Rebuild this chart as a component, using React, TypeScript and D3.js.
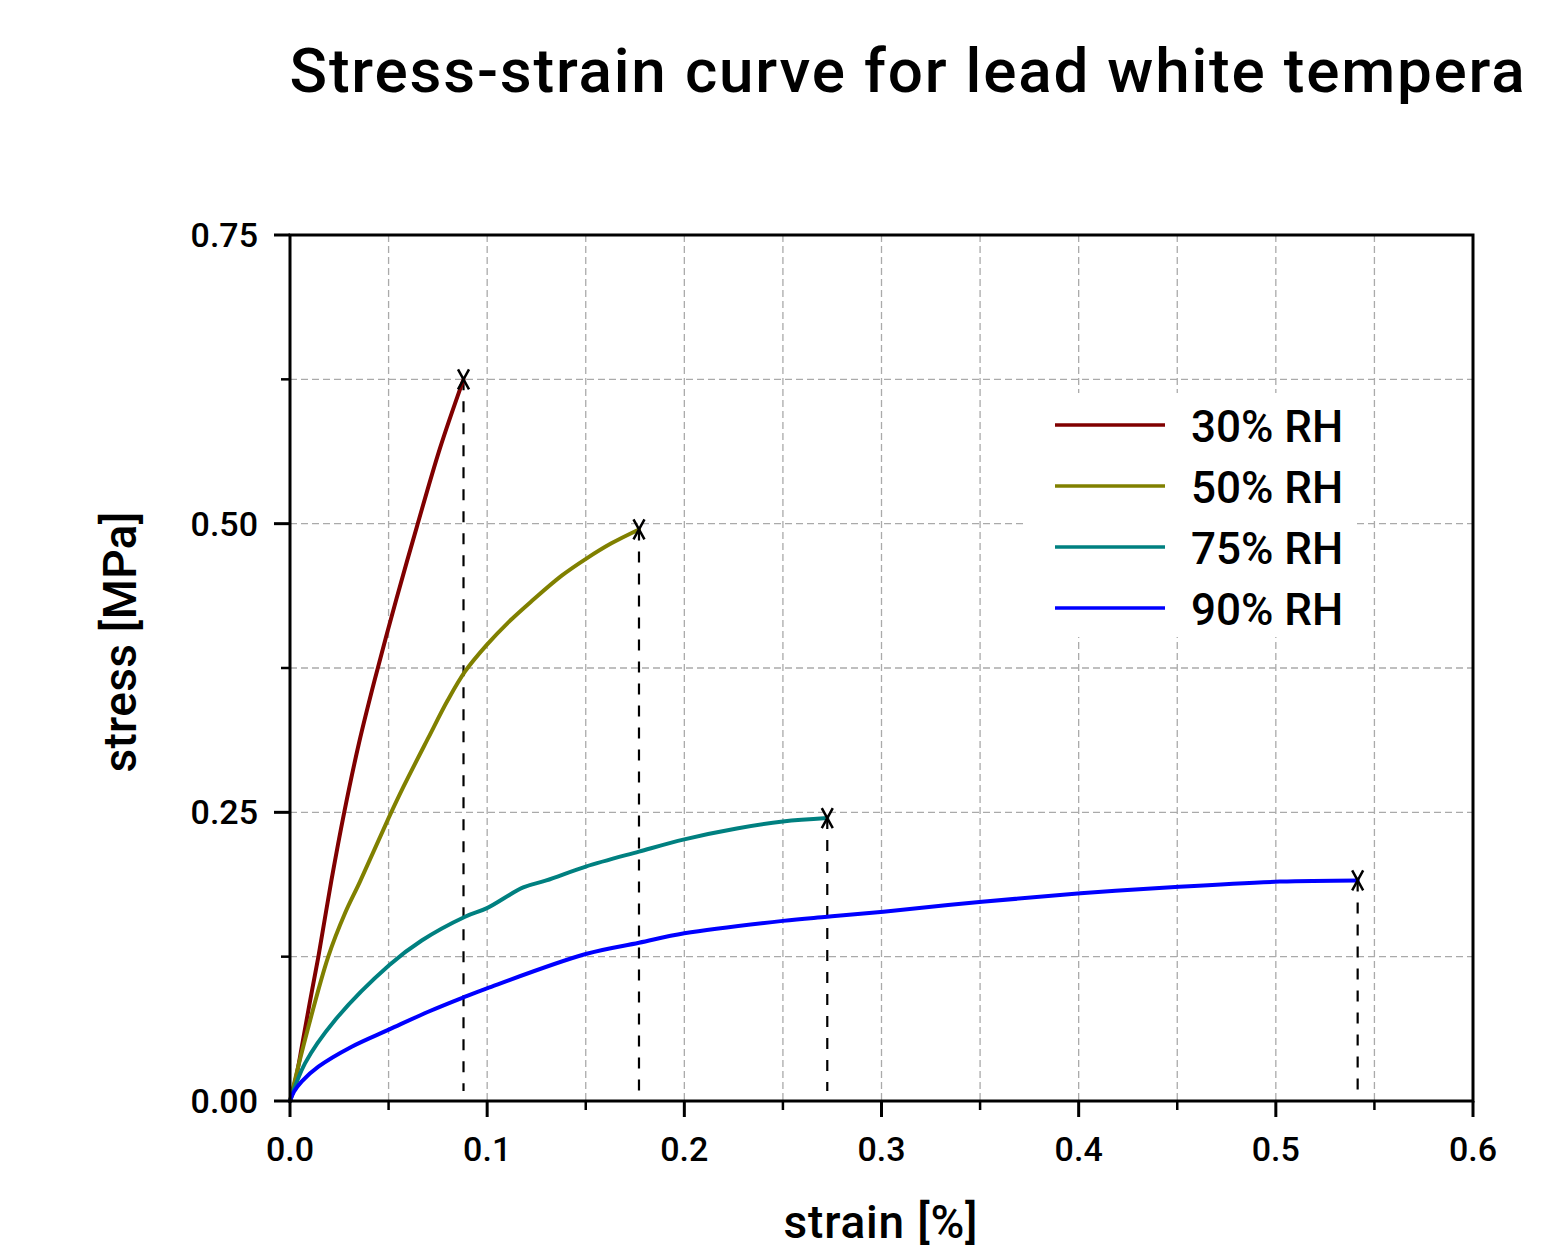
import React from "react";
import * as d3 from "d3";

const title = "Stress-strain curve for lead white tempera";
const xLabel = "strain [%]";
const yLabel = "stress [MPa]";

const seriesNames = ["30% RH", "50% RH", "75% RH", "90% RH"];
const seriesColors = ["#800000", "#808000", "#008080", "#0000ff"];

const strain30 = [0, 0.003, 0.006, 0.01, 0.0144, 0.021, 0.0275, 0.035, 0.043, 0.054, 0.0643, 0.076, 0.088];
const stress30 = [0, 0.02, 0.047, 0.085, 0.125, 0.191, 0.25, 0.31, 0.365, 0.435, 0.497, 0.565, 0.625];

const strain50 = [0, 0.0067, 0.0194, 0.028, 0.0355, 0.05, 0.0575, 0.07, 0.08, 0.0888, 0.0998, 0.111, 0.1226, 0.1378, 0.1505, 0.163, 0.177];
const stress50 = [0, 0.047, 0.125, 0.163, 0.19, 0.245, 0.272, 0.314, 0.347, 0.372, 0.395, 0.415, 0.433, 0.455, 0.47, 0.483, 0.495];

const strain75 = [0, 0.0076, 0.0228, 0.0504, 0.0668, 0.0888, 0.0999, 0.1183, 0.13, 0.15, 0.177, 0.2, 0.2266, 0.25, 0.2725];
const stress75 = [0, 0.0326, 0.07, 0.1178, 0.139, 0.1596, 0.167, 0.185, 0.191, 0.203, 0.216, 0.2266, 0.236, 0.242, 0.245];

const strain90 = [0, 0.002, 0.006, 0.0144, 0.0313, 0.0504, 0.0701, 0.0888, 0.0999, 0.15, 0.177, 0.2, 0.25, 0.2725, 0.301, 0.351, 0.401, 0.451, 0.502, 0.5415];
const stress90 = [0, 0.008, 0.017, 0.0297, 0.047, 0.062, 0.0773, 0.0903, 0.0976, 0.1273, 0.137, 0.1452, 0.156, 0.1596, 0.164, 0.1726, 0.1799, 0.1856, 0.19, 0.191];

const xMajorTicks = [0, 0.1, 0.2, 0.3, 0.4, 0.5, 0.6];
const xMinorTicks = [0.05, 0.15, 0.25, 0.35, 0.45, 0.55];
const yMajorTicks = [0, 0.25, 0.5, 0.75];
const yMinorTicks = [0.125, 0.375, 0.625];

const FONT = "Roboto, 'Noto Sans', sans-serif";

export default function App() {
  const W = 1541, H = 1254;
  const left = 290, right = 1473, top = 235, bottom = 1101;
  const x = d3.scaleLinear().domain([0, 0.6]).range([left, right]);
  const y = d3.scaleLinear().domain([0, 0.75]).range([bottom, top]);

  const series = [
    { xs: strain30, ys: stress30 },
    { xs: strain50, ys: stress50 },
    { xs: strain75, ys: stress75 },
    { xs: strain90, ys: stress90 },
  ];

  const line = d3
    .line<[number, number]>()
    .x((d) => x(d[0]))
    .y((d) => y(d[1]))
    .curve(d3.curveCatmullRom.alpha(0.5));

  const gridX = [...xMajorTicks, ...xMinorTicks].filter((v) => v > 0 && v < 0.6).sort();
  const gridY = [...yMajorTicks, ...yMinorTicks].filter((v) => v > 0 && v < 0.75).sort();

  const legendX1 = 1055, legendX2 = 1165, legendY0 = 425, legendDY = 61;

  return (
    <svg width={W} height={H} style={{ position: "absolute", left: 0, top: 0, background: "#fff" }}>
      <rect x={0} y={0} width={W} height={H} fill="#fff" />
      {/* grid */}
      {gridX.map((v) => (
        <line key={"gx" + v} x1={x(v)} x2={x(v)} y1={top} y2={bottom} stroke="#aaaaaa" strokeWidth={1.3} strokeDasharray="7,4" />
      ))}
      {gridY.map((v) => (
        <line key={"gy" + v} x1={left} x2={right} y1={y(v)} y2={y(v)} stroke="#aaaaaa" strokeWidth={1.3} strokeDasharray="7,4" />
      ))}
      {/* legend background */}
      <rect x={1024} y={393} width={333} height={244} fill="#fff" />

      {/* drop lines */}
      {series.map((s, i) => {
        const ex = s.xs[s.xs.length - 1];
        const ey = s.ys[s.ys.length - 1];
        return (
          <line key={"drop" + i} x1={x(ex)} x2={x(ex)} y1={y(ey)} y2={bottom - 10} stroke="#000" strokeWidth={2.2} strokeDasharray="11,11" />
        );
      })}

      {/* curves */}
      {series.map((s, i) => (
        <path
          key={"c" + i}
          d={line(s.xs.map((v, k) => [v, s.ys[k]] as [number, number])) || ""}
          fill="none"
          stroke={seriesColors[i]}
          strokeWidth={4}
          strokeLinejoin="round"
          strokeLinecap="round"
        />
      ))}

      {/* end markers */}
      {series.map((s, i) => {
        const ex = x(s.xs[s.xs.length - 1]);
        const ey = y(s.ys[s.ys.length - 1]);
        return (
          <path
            key={"m" + i}
            d={`M${ex - 5.5},${ey - 10}L${ex + 5.5},${ey + 10}M${ex + 5.5},${ey - 10}L${ex - 5.5},${ey + 10}`}
            stroke="#000"
            strokeWidth={2.5}
            fill="none"
          />
        );
      })}

      {/* frame */}
      <rect x={left} y={top} width={right - left} height={bottom - top} fill="none" stroke="#000" strokeWidth={3} />

      {/* ticks */}
      {xMajorTicks.map((v) => (
        <line key={"xt" + v} x1={x(v)} x2={x(v)} y1={bottom} y2={bottom + 16} stroke="#000" strokeWidth={3} />
      ))}
      {xMinorTicks.map((v) => (
        <line key={"xm" + v} x1={x(v)} x2={x(v)} y1={bottom} y2={bottom + 9} stroke="#000" strokeWidth={2.5} />
      ))}
      {yMajorTicks.map((v) => (
        <line key={"yt" + v} x1={left - 16} x2={left} y1={y(v)} y2={y(v)} stroke="#000" strokeWidth={3} />
      ))}
      {yMinorTicks.map((v) => (
        <line key={"ym" + v} x1={left - 9} x2={left} y1={y(v)} y2={y(v)} stroke="#000" strokeWidth={2.5} />
      ))}

      {/* tick labels */}
      {xMajorTicks.map((v) => (
        <text key={"xl" + v} x={x(v)} y={1161} textAnchor="middle" fontFamily={FONT} fontSize={34} fontWeight={500} fill="#000">
          {d3.format(".1f")(v)}
        </text>
      ))}
      {yMajorTicks.map((v) => (
        <text key={"yl" + v} x={258} y={y(v) + 12} textAnchor="end" fontFamily={FONT} fontSize={34} fontWeight={500} fill="#000">
          {d3.format(".2f")(v)}
        </text>
      ))}

      {/* axis titles */}
      <text x={881} y={1238} textAnchor="middle" fontFamily={FONT} fontSize={46} fontWeight={500} letterSpacing={0.8} fill="#000">
        {xLabel}
      </text>
      <text
        transform={`translate(136,642) rotate(-90)`}
        textAnchor="middle"
        fontFamily={FONT}
        fontSize={46}
        fontWeight={500}
        letterSpacing={0.3}
        fill="#000"
      >
        {yLabel}
      </text>

      {/* title */}
      <text x={908} y={92} textAnchor="middle" fontFamily={FONT} fontSize={62} fontWeight={500} letterSpacing={1.8} fill="#000">
        {title}
      </text>

      {/* legend */}
      {seriesNames.map((name, i) => (
        <g key={"lg" + i}>
          <line x1={legendX1} x2={legendX2} y1={legendY0 + i * legendDY} y2={legendY0 + i * legendDY} stroke={seriesColors[i]} strokeWidth={3.5} />
          <text x={1191} y={legendY0 + i * legendDY + 17} fontFamily={FONT} fontSize={44} fontWeight={500} fill="#000">
            {name}
          </text>
        </g>
      ))}
    </svg>
  );
}
